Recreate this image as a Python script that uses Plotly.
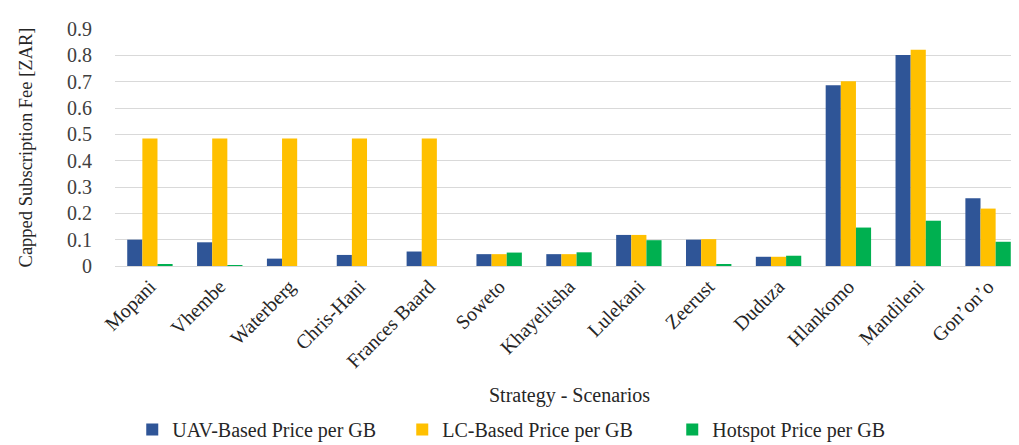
import plotly.graph_objects as go

categories = ["Mopani", "Vhembe", "Waterberg", "Chris-Hani", "Frances Baard", "Soweto",
              "Khayelitsha", "Lulekani", "Zeerust", "Duduza", "Hlankomo", "Mandileni", "Gon\u02bcon\u02bco"]
uav_price = [0.100, 0.090, 0.028, 0.042, 0.055, 0.045, 0.045, 0.118, 0.100, 0.035, 0.686, 0.801, 0.257]
lc_price = [0.484, 0.484, 0.484, 0.484, 0.484, 0.045, 0.045, 0.118, 0.102, 0.035, 0.702, 0.821, 0.218]
hotspot_price = [0.005, 0.003, 0.0, 0.0, 0.0, 0.051, 0.052, 0.098, 0.005, 0.039, 0.146, 0.172, 0.092]

series_names = ["UAV-Based Price per GB", "LC-Based Price per GB", "Hotspot Price per GB"]
colors = ["#2F5597", "#FFC000", "#00B050"]

font_family = "Liberation Serif, Times New Roman, serif"

fig = go.Figure()
for name, vals, col in zip(series_names, [uav_price, lc_price, hotspot_price], colors):
    fig.add_trace(go.Bar(x=categories, y=vals, name=name, marker=dict(color=col, line=dict(width=0))))

fig.update_layout(
    width=1019, height=445,
    margin=dict(l=107, r=4, t=21, b=179),
    paper_bgcolor="white", plot_bgcolor="white",
    barmode="group", bargap=0.35, bargroupgap=0,
    font=dict(family=font_family, size=20, color="#404040"),
    showlegend=True,
    legend=dict(orientation="h", x=0.019, xanchor="left", y=-0.69, yanchor="middle",
                font=dict(size=20, color="#262626", family=font_family), traceorder="normal",
                itemwidth=30, entrywidth=225, entrywidthmode="pixels"),
    xaxis=dict(tickangle=-45, tickfont=dict(size=20, color="#262626", family=font_family), showline=True,
               linecolor="#D9D9D9", linewidth=1, ticks="", automargin=False),
    yaxis=dict(range=[0, 0.9], dtick=0.1, tickfont=dict(size=20, color="#404040", family=font_family),
               gridcolor="#D9D9D9", gridwidth=1, zeroline=False, showline=False,
               ticks="", ticklabelstandoff=22, automargin=False,
               title=dict(text="Capped Subscription Fee [ZAR]", font=dict(size=18.5, color="#262626", family=font_family), standoff=29)),
)
fig.add_annotation(text="Strategy - Scenarios", xref="paper", yref="paper", x=0.50, y=-0.545,
                   xanchor="center", yanchor="middle", showarrow=False,
                   font=dict(size=20, color="#262626", family=font_family))

fig.write_html("out.html")
